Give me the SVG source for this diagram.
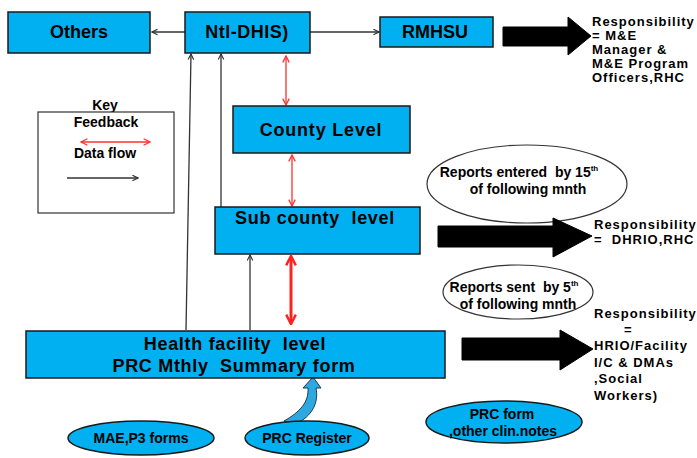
<svg xmlns="http://www.w3.org/2000/svg" width="697" height="458" viewBox="0 0 697 458">
<defs>
<style>
.box{fill:#00B0F0;stroke:#1a1a1a;stroke-width:1.5}
.t{font-family:"Liberation Sans",Arial,sans-serif;font-weight:bold;fill:#000}
.big{font-size:18px}
.mid{font-size:18px;letter-spacing:0.7px}
.sm{font-size:14px}
.resp{font-size:13px;letter-spacing:1px}
.blk{stroke:#333;stroke-width:1.3;fill:none}
.red{stroke:#FF3030;stroke-width:1.3;fill:none}
.oval{fill:#fff;stroke:#333;stroke-width:1.2}
.bov{fill:#00B0F0;stroke:#1a1a1a;stroke-width:1.5}
.fat{fill:#000;stroke:#000;stroke-width:1}
</style>
<marker id="ab" viewBox="0 0 10 10" refX="9" refY="5" markerWidth="7" markerHeight="7" markerUnits="userSpaceOnUse" orient="auto-start-reverse"><path d="M1 1 L9 5 L1 9" fill="none" stroke="#333" stroke-width="1.6"/></marker>
<marker id="ar" viewBox="0 0 10 10" refX="9" refY="5" markerWidth="8" markerHeight="8" markerUnits="userSpaceOnUse" orient="auto-start-reverse"><path d="M1 1 L9 5 L1 9" fill="none" stroke="#FF3030" stroke-width="1.6"/></marker>
<marker id="ar2" viewBox="0 0 10 10" refX="8" refY="5" markerWidth="12" markerHeight="12" markerUnits="userSpaceOnUse" orient="auto-start-reverse"><path d="M1 1 L9 5 L1 9" fill="none" stroke="#FF2020" stroke-width="2"/></marker>
</defs>

<g id="connectors">
<line class="blk" x1="185" y1="32" x2="152" y2="32" marker-end="url(#ab)"/>
<line class="blk" x1="310" y1="32" x2="379" y2="32" marker-end="url(#ab)"/>
<line class="blk" x1="186" y1="330" x2="191" y2="54" marker-end="url(#ab)"/>
<line class="blk" x1="221" y1="207" x2="221" y2="54" marker-end="url(#ab)"/>
<line class="blk" x1="250" y1="330" x2="250" y2="255" marker-end="url(#ab)"/>
<line class="red" x1="286" y1="56" x2="286" y2="105" marker-start="url(#ar)" marker-end="url(#ar)"/>
<line class="red" x1="292" y1="155" x2="292" y2="206" marker-start="url(#ar)" marker-end="url(#ar)"/>
<line x1="291" y1="257" x2="291" y2="323" stroke="#FF2020" stroke-width="3" marker-start="url(#ar2)" marker-end="url(#ar2)"/>
<path d="M284 421 C300 412 309 402 308 388 L303 388 L313 377 L321 388 L316 388 C319 403 312 416 296 424 Z" fill="#2EA9DF" stroke="#1a3a5a" stroke-width="1"/>
</g>

<g id="others"><rect class="box" x="8" y="12" width="142" height="41"/><text class="t big" x="79" y="38" text-anchor="middle">Others</text></g>
<g id="ntl-dhis"><rect class="box" x="185" y="12" width="125" height="41"/><text class="t big" x="247" y="38" text-anchor="middle" letter-spacing="0.5">Ntl-DHIS)</text></g>
<g id="rmhsu"><rect class="box" x="380" y="17" width="113" height="30"/><text class="t big" x="435" y="38" text-anchor="middle">RMHSU</text></g>
<g id="county"><rect class="box" x="233" y="106" width="177" height="47"/><text class="t big" x="321" y="136" text-anchor="middle" letter-spacing="0.8">County Level</text></g>
<g id="subcounty"><rect class="box" x="215" y="207" width="205" height="47"/><text class="t mid" x="315" y="224" text-anchor="middle" xml:space="preserve">Sub county  level</text></g>
<g id="health"><rect class="box" x="26" y="331" width="419" height="47"/><text class="t mid" x="235" y="350" text-anchor="middle" xml:space="preserve">Health facility  level</text><text class="t mid" x="234" y="372" text-anchor="middle" xml:space="preserve">PRC Mthly  Summary form</text></g>

<g id="key"><text class="t sm" x="105" y="110" text-anchor="middle">Key</text><rect x="38" y="112" width="136" height="101" fill="#fff" stroke="#333" stroke-width="1.2"/><text class="t sm" x="106" y="127" text-anchor="middle">Feedback</text><line class="red" x1="81" y1="142" x2="150" y2="142" marker-start="url(#ar)" marker-end="url(#ar)"/><text class="t sm" x="105" y="158" text-anchor="middle">Data flow</text><line class="blk" x1="67" y1="178" x2="138" y2="178" marker-end="url(#ab)"/></g>

<g id="resp1"><path class="fat" d="M503 27 L568 27 L568 17 L591 36 L568 55 L568 46 L503 46 Z"/><text class="t resp" x="592" y="26">Responsibility</text><text class="t resp" x="592" y="40">= M&amp;E</text><text class="t resp" x="592" y="54">Manager &amp;</text><text class="t resp" x="592" y="68">M&amp;E Program</text><text class="t resp" x="592" y="82">Officers,RHC</text></g>

<g id="reports15"><ellipse class="oval" cx="527" cy="184" rx="100" ry="39"/><text class="t sm" x="519" y="177" text-anchor="middle" xml:space="preserve">Reports entered  by 15<tspan font-size="8" dy="-6">th</tspan></text><text class="t sm" x="528" y="194" text-anchor="middle">of following mnth</text></g>

<g id="resp2"><path class="fat" d="M438 226 L553 226 L553 218 L592 236 L553 257 L553 247 L438 247 Z"/><text class="t resp" x="594" y="229">Responsibility</text><text class="t resp" x="594" y="244" xml:space="preserve">=  DHRIO,RHC</text></g>

<g id="reports5"><ellipse class="oval" cx="518" cy="292" rx="75" ry="27"/><text class="t sm" x="514" y="292" text-anchor="middle" xml:space="preserve">Reports sent  by 5<tspan font-size="8" dy="-6">th</tspan></text><text class="t sm" x="518" y="309" text-anchor="middle">of following mnth</text></g>

<g id="resp3"><path class="fat" d="M462 338 L560 338 L560 330 L593 349 L560 370 L560 360 L462 360 Z"/><text class="t resp" x="594" y="318">Responsibility</text><text class="t resp" x="624" y="334">=</text><text class="t resp" x="594" y="350">HRIO/Facility</text><text class="t resp" x="594" y="367">I/C &amp; DMAs</text><text class="t resp" x="594" y="383">,Social</text><text class="t resp" x="594" y="400">Workers)</text></g>

<g id="mae"><ellipse class="bov" cx="141" cy="438" rx="73" ry="17"/><text class="t sm" x="141" y="443" text-anchor="middle">MAE,P3 forms</text></g>
<g id="prcreg"><ellipse class="bov" cx="307" cy="438" rx="62" ry="17"/><text class="t sm" x="307" y="443" text-anchor="middle">PRC Register</text></g>
<g id="prcform"><ellipse class="bov" cx="504" cy="422" rx="78" ry="21"/><text class="t sm" x="502" y="419" text-anchor="middle">PRC form</text><text class="t sm" x="503" y="436" text-anchor="middle">,other clin.notes</text></g>
</svg>
